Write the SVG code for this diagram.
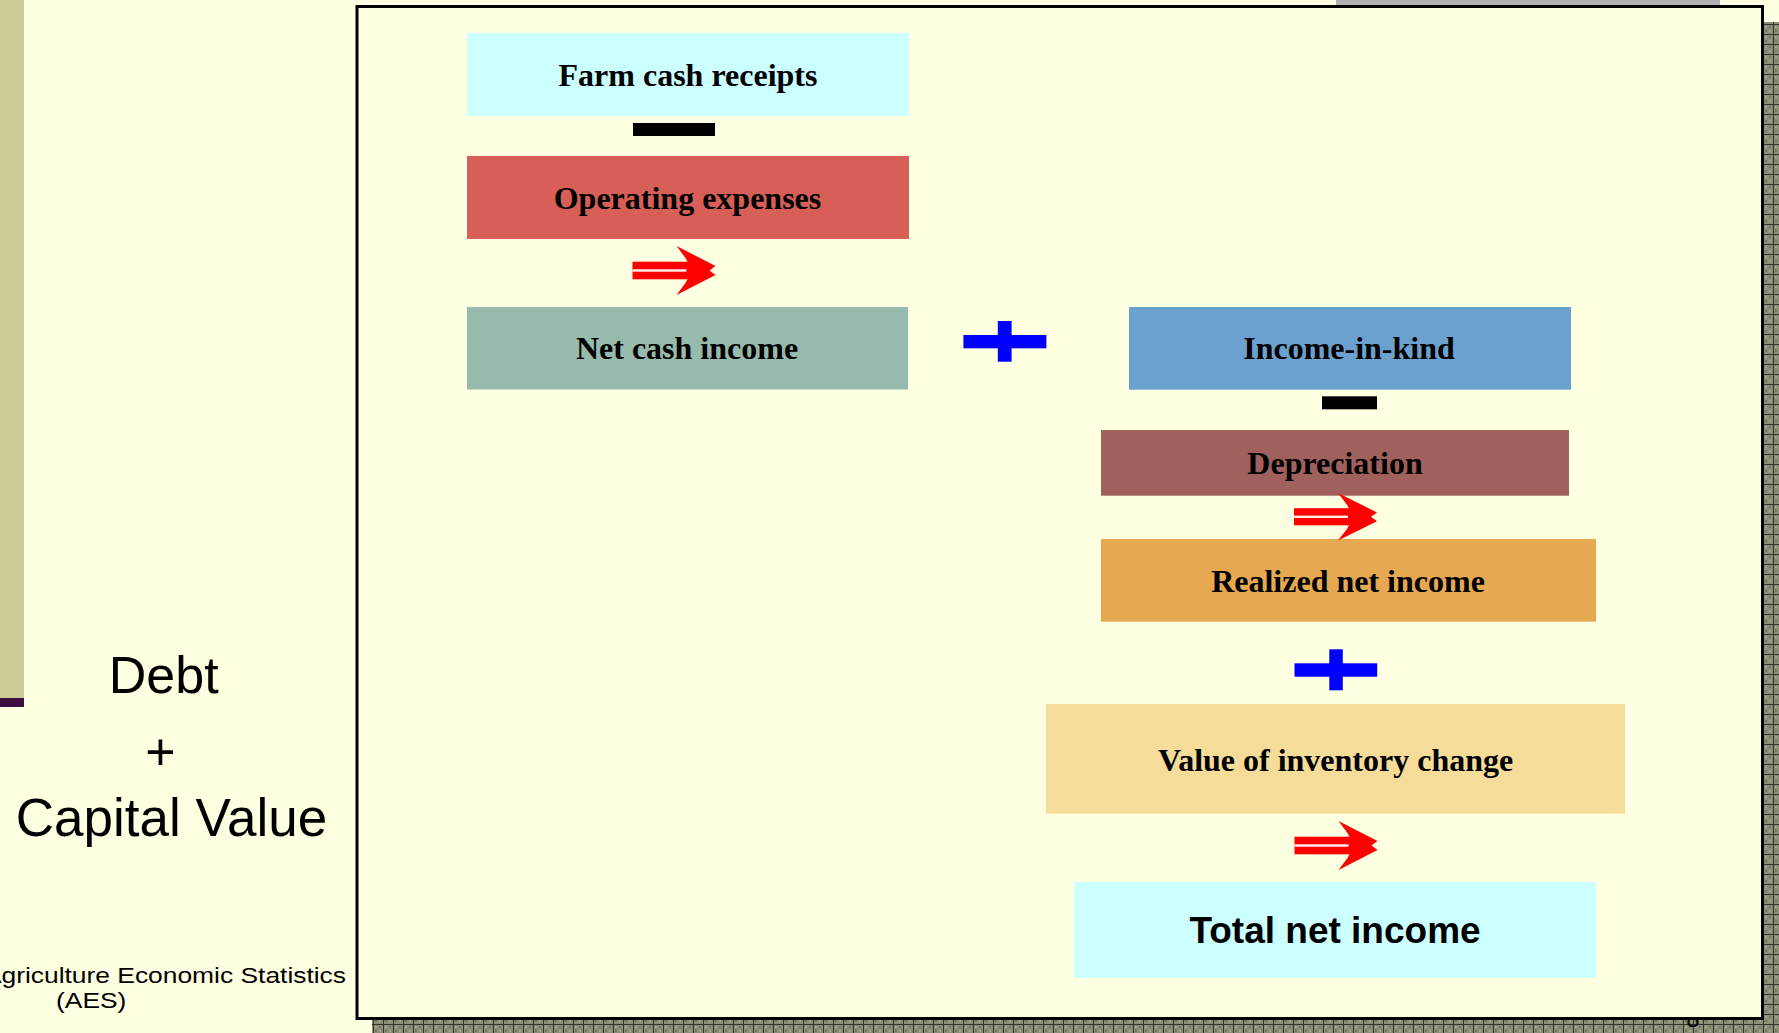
<svg xmlns="http://www.w3.org/2000/svg" xmlns:xlink="http://www.w3.org/1999/xlink" width="1779" height="1033" viewBox="0 0 1779 1033">
<style>
.serif{font-family:"Liberation Serif","Times New Roman",serif;font-weight:bold;font-size:32px;fill:#000;text-anchor:middle}
.sans{font-family:"Liberation Sans",Arial,sans-serif;fill:#000}
.minus{fill:#000}
.plus{fill:#0000FF}
.arrow{fill:#FF0000}
</style>
<defs>
<pattern id="hatch" patternUnits="userSpaceOnUse" x="3" y="4" width="10" height="10">
<rect width="10" height="10" fill="#8E8E78"/>
<rect x="2" y="2" width="2" height="2" fill="#A4A48C"/>
<rect x="6" y="6" width="2" height="2" fill="#A4A48C"/>
<rect x="6" y="2" width="2" height="2" fill="#76765F"/>
<rect x="2" y="6" width="2" height="2" fill="#76765F"/>
<rect x="0" y="0" width="10" height="1" fill="#34342A"/>
<rect x="0" y="0" width="1" height="10" fill="#34342A"/>
</pattern>
<g id="arr">
<rect x="0" y="15.7" width="56" height="17.6"/>
<polygon points="44,0 83,20 77,24.5 83,29 44,49 53,37 55,33.3 55,15.7 53,12"/>
<rect x="0" y="23.3" width="54" height="2.4" fill="#FFF4F4"/>
</g>
</defs>

<rect x="0" y="0" width="1779" height="1033" fill="#FFFFE1"/>

<g id="sidebar">
<rect x="0" y="0" width="24" height="698" fill="#CCCC99"/>
<rect x="0" y="698" width="24" height="9" fill="#3F0F3F"/>
</g>

<g id="left-text">
<text class="sans" x="163.7" y="692.7" font-size="52" text-anchor="middle">Debt</text>
<text class="sans" x="160.5" y="770" font-size="52" text-anchor="middle">+</text>
<text class="sans" x="171.5" y="836" font-size="53" text-anchor="middle">Capital Value</text>
<text class="sans" font-size="22" text-anchor="end" transform="translate(346,982.5) scale(1.2,1)">Agriculture Economic Statistics</text>
<text class="sans" font-size="22" text-anchor="start" transform="translate(56,1008) scale(1.2,1)">(AES)</text>
</g>

<g id="frame">
<rect x="1336" y="0" width="384" height="5.5" fill="#B0B0B0"/>
<rect x="372" y="22" width="1410" height="1015" fill="url(#hatch)"/>
<text class="sans" x="1693" y="1027" font-size="24" text-anchor="middle">8</text>
<rect x="357" y="6.5" width="1405.5" height="1012" fill="#FFFFE1" stroke="#000" stroke-width="3"/>
</g>

<g id="node-farm-cash-receipts">
<rect x="467" y="33" width="442" height="83" fill="#CCFFFF"/>
<text class="serif" x="688" y="85.7">Farm cash receipts</text>
</g>
<g id="node-operating-expenses">
<rect x="467" y="156" width="442" height="83" fill="#D75F57"/>
<text class="serif" x="687.5" y="209">Operating expenses</text>
</g>
<g id="node-net-cash-income">
<rect x="467" y="307" width="441" height="82.5" fill="#96BBAD"/>
<text class="serif" x="687" y="359.3">Net cash income</text>
</g>
<g id="node-income-in-kind">
<rect x="1129" y="307" width="442" height="82.7" fill="#6BA1CE"/>
<text class="serif" x="1349" y="359.3">Income-in-kind</text>
</g>
<g id="node-depreciation">
<rect x="1101" y="430" width="468" height="65.7" fill="#A0605B"/>
<text class="serif" x="1335" y="474.3">Depreciation</text>
</g>
<g id="node-realized-net-income">
<rect x="1101" y="539" width="495" height="82.7" fill="#E6A851"/>
<text class="serif" x="1348" y="591.7">Realized net income</text>
</g>
<g id="node-value-of-inventory-change">
<rect x="1046" y="704" width="579" height="109.7" fill="#F5DC98"/>
<text class="serif" x="1335.6" y="770.7">Value of inventory change</text>
</g>
<g id="node-total-net-income">
<rect x="1074" y="882" width="522" height="96" fill="#CCFFFF"/>
<text class="sans" x="1335" y="942.7" font-size="37" font-weight="bold" text-anchor="middle">Total net income</text>
</g>

<g id="connectors">
<rect class="minus" x="633" y="123" width="82" height="13"/>
<use class="arrow" xlink:href="#arr" href="#arr" transform="translate(632.5,246)"/>
<g class="plus">
<rect x="963.4" y="335" width="83" height="13.3"/>
<rect x="997.8" y="321" width="13.8" height="40.7"/>
</g>
<rect class="minus" x="1322" y="396.3" width="55" height="13"/>
<use class="arrow" xlink:href="#arr" href="#arr" transform="translate(1294,493) scale(1,0.97)"/>
<g class="plus">
<rect x="1294.5" y="663.3" width="82.7" height="13.4"/>
<rect x="1329.3" y="649.3" width="13.5" height="41"/>
</g>
<use class="arrow" xlink:href="#arr" href="#arr" transform="translate(1294.5,821)"/>
</g>
</svg>
